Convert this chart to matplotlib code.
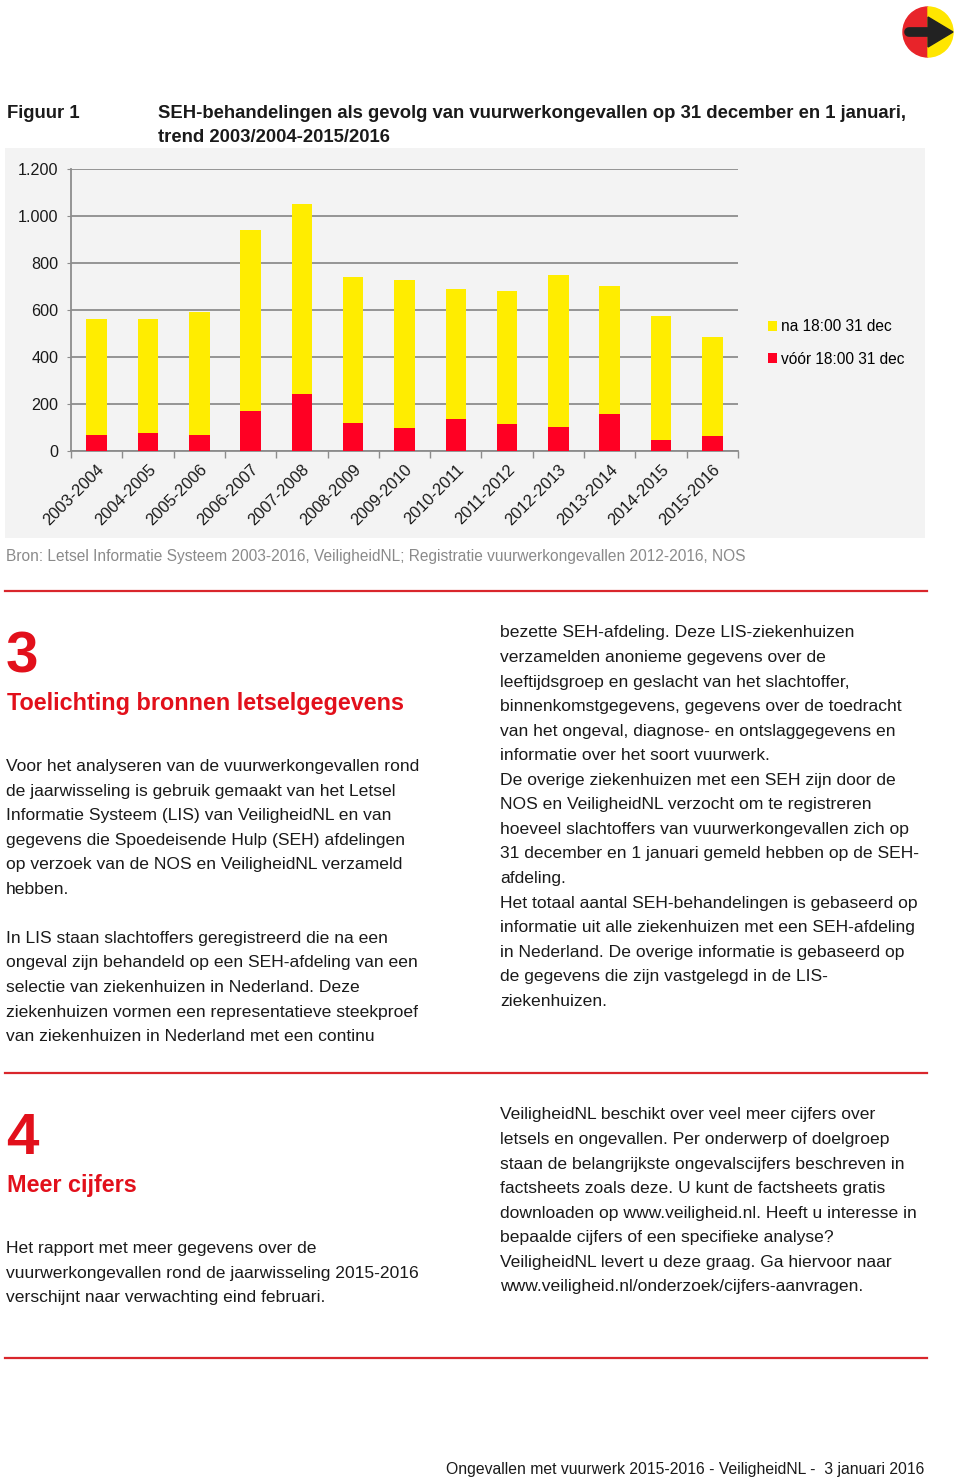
import matplotlib
matplotlib.use("Agg")
import matplotlib.pyplot as plt
from matplotlib.patches import Rectangle, Wedge, Polygon, Patch

# Data: SEH-behandelingen per jaarwisseling
seasons = ["2003-2004", "2004-2005", "2005-2006", "2006-2007", "2007-2008",
           "2008-2009", "2009-2010", "2010-2011", "2011-2012", "2012-2013",
           "2013-2014", "2014-2015", "2015-2016"]
voor_1800 = [67, 77, 67, 170, 243, 118, 96, 135, 113, 103, 159, 45, 62]
na_1800 = [493, 483, 524, 772, 808, 624, 630, 553, 567, 647, 543, 531, 422]
y_ticks = [0, 200, 400, 600, 800, 1000, 1200]
y_tick_labels = ["0", "200", "400", "600", "800", "1.000", "1.200"]

W, H = 960, 1480
RED = "#ff0023"
YELLOW = "#ffed00"
HEAD_RED = "#e2101b"
TEXT = "#1a1a1a"
FONT = "Liberation Sans"

plt.rcParams['font.family'] = [FONT, 'DejaVu Sans']

fig = plt.figure(figsize=(W / 100, H / 100), dpi=100)
fig.patch.set_facecolor("white")


def fx(x):
    return x / W


def fy(y):
    return 1 - y / H


def txt(x, y, s, size=12.6, **kw):
    kw.setdefault("color", TEXT)
    kw.setdefault("va", "center")
    fig.text(fx(x), fy(y + 1.5), s, fontsize=size, **kw)


# logo rechtsboven
lax = fig.add_axes([fx(898), fy(62), 60 / W, 60 / H])
lax.set_xlim(898, 958)
lax.set_ylim(62, 2)
lax.set_aspect("equal")
lax.axis("off")
lax.add_patch(Wedge((928, 32), 25, 90, 270, color="#e8242a"))
lax.add_patch(Wedge((928, 32), 25, -90, 90, color="#ffe600"))
lax.plot([909, 934], [32, 32], color="#222222", lw=7, solid_capstyle="round")
lax.add_patch(Polygon([[928, 17], [953, 32], [928, 47]], closed=True,
                      color="#222222"))

# titel
txt(7, 112, "Figuur 1", size=13.3, weight="bold")
txt(158, 112, "SEH-behandelingen als gevolg van vuurwerkongevallen op 31 december en 1 januari,",
    size=13.3, weight="bold")
txt(158, 136, "trend 2003/2004-2015/2016", size=13.3, weight="bold")

# grijze achtergrond van de grafiek
fig.add_artist(Rectangle((fx(5), fy(538)), 920 / W, 390 / H,
                         transform=fig.transFigure, facecolor="#f3f3f3",
                         edgecolor="none", zorder=-1))

ax = fig.add_axes([fx(71), fy(451), 667 / W, 282 / H])
ax.set_facecolor("none")
x = list(range(len(seasons)))
ax.bar(x, voor_1800, width=0.4, color=RED, zorder=3, label="vóór 18:00 31 dec")
ax.bar(x, na_1800, width=0.4, bottom=voor_1800, color=YELLOW, zorder=3,
       label="na 18:00 31 dec")
ax.set_xlim(-0.5, len(seasons) - 0.5)
ax.set_ylim(0, 1200)
ax.set_yticks(y_ticks)
ax.set_yticklabels(y_tick_labels, fontsize=11.6)
ax.yaxis.grid(True, color="#8c8c8c", lw=1.3, zorder=1)
ax.tick_params(axis="y", length=3, color="#8c8c8c", pad=6, labelcolor=TEXT)
ax.set_xticks(x)
ax.set_xticklabels(seasons, rotation=45, ha="right", va="top",
                   rotation_mode="anchor", fontsize=11.8, color=TEXT)
ax.tick_params(axis="x", length=0, pad=8)
ax.set_xticks([i - 0.5 for i in range(len(seasons) + 1)], minor=True)
ax.tick_params(axis="x", which="minor", length=5, color="#8c8c8c", width=1)
for s in ["top", "right"]:
    ax.spines[s].set_visible(False)
for s in ["left", "bottom"]:
    ax.spines[s].set_color("#8c8c8c")
    ax.spines[s].set_linewidth(1.3)

handles = [Patch(facecolor=YELLOW, label="na 18:00 31 dec"),
           Patch(facecolor=RED, label="vóór 18:00 31 dec")]
fig.legend(handles=handles, loc="center left",
           bbox_to_anchor=(fx(768), fy(343)), frameon=False, fontsize=11.2,
           handlelength=0.55, handleheight=0.55, handletextpad=0.3,
           labelspacing=1.1, borderaxespad=0, borderpad=0)

txt(6, 555, "Bron: Letsel Informatie Systeem 2003-2016, VeiligheidNL; Registratie vuurwerkongevallen 2012-2016, NOS",
    size=11.2, color="#8a8a8a")

# rode scheidingslijnen
for yy in [591, 1073, 1358]:
    fig.add_artist(plt.Line2D([fx(5), fx(927)], [fy(yy), fy(yy)],
                              color="#d9262c", lw=1.6))

# sectie 3
txt(6, 656, "3", size=42, weight="bold", color=HEAD_RED)
txt(7, 702, "Toelichting bronnen letselgegevens", size=16.8, weight="bold",
    color=HEAD_RED)

left3 = ["Voor het analyseren van de vuurwerkongevallen rond",
         "de jaarwisseling is gebruik gemaakt van het Letsel",
         "Informatie Systeem (LIS) van VeiligheidNL en van",
         "gegevens die Spoedeisende Hulp (SEH) afdelingen",
         "op verzoek van de NOS en VeiligheidNL verzameld",
         "hebben.",
         "",
         "In LIS staan slachtoffers geregistreerd die na een",
         "ongeval zijn behandeld op een SEH-afdeling van een",
         "selectie van ziekenhuizen in Nederland. Deze",
         "ziekenhuizen vormen een representatieve steekproef",
         "van ziekenhuizen in Nederland met een continu"]
right3 = ["bezette SEH-afdeling. Deze LIS-ziekenhuizen",
          "verzamelden anonieme gegevens over de",
          "leeftijdsgroep en geslacht van het slachtoffer,",
          "binnenkomstgegevens, gegevens over de toedracht",
          "van het ongeval, diagnose- en ontslaggegevens en",
          "informatie over het soort vuurwerk.",
          "De overige ziekenhuizen met een SEH zijn door de",
          "NOS en VeiligheidNL verzocht om te registreren",
          "hoeveel slachtoffers van vuurwerkongevallen zich op",
          "31 december en 1 januari gemeld hebben op de SEH-",
          "afdeling.",
          "Het totaal aantal SEH-behandelingen is gebaseerd op",
          "informatie uit alle ziekenhuizen met een SEH-afdeling",
          "in Nederland. De overige informatie is gebaseerd op",
          "de gegevens die zijn vastgelegd in de LIS-",
          "ziekenhuizen."]
LS = 24.55
for i, line in enumerate(left3):
    txt(6, 765 + i * LS, line)
for i, line in enumerate(right3):
    txt(500, 631.5 + i * LS, line)

# sectie 4
txt(6, 1138, "4", size=42, weight="bold", color=HEAD_RED)
txt(7, 1184, "Meer cijfers", size=16.8, weight="bold", color=HEAD_RED)
left4 = ["Het rapport met meer gegevens over de",
         "vuurwerkongevallen rond de jaarwisseling 2015-2016",
         "verschijnt naar verwachting eind februari."]
right4 = ["VeiligheidNL beschikt over veel meer cijfers over",
          "letsels en ongevallen. Per onderwerp of doelgroep",
          "staan de belangrijkste ongevalscijfers beschreven in",
          "factsheets zoals deze. U kunt de factsheets gratis",
          "downloaden op www.veiligheid.nl. Heeft u interesse in",
          "bepaalde cijfers of een specifieke analyse?",
          "VeiligheidNL levert u deze graag. Ga hiervoor naar",
          "www.veiligheid.nl/onderzoek/cijfers-aanvragen."]
for i, line in enumerate(left4):
    txt(6, 1247 + i * LS, line)
for i, line in enumerate(right4):
    txt(500, 1113.5 + i * LS, line)

txt(924, 1468, "Ongevallen met vuurwerk 2015-2016 - VeiligheidNL -  3 januari 2016",
    size=11.3, ha="right")

fig.savefig("out.png", dpi=100)
